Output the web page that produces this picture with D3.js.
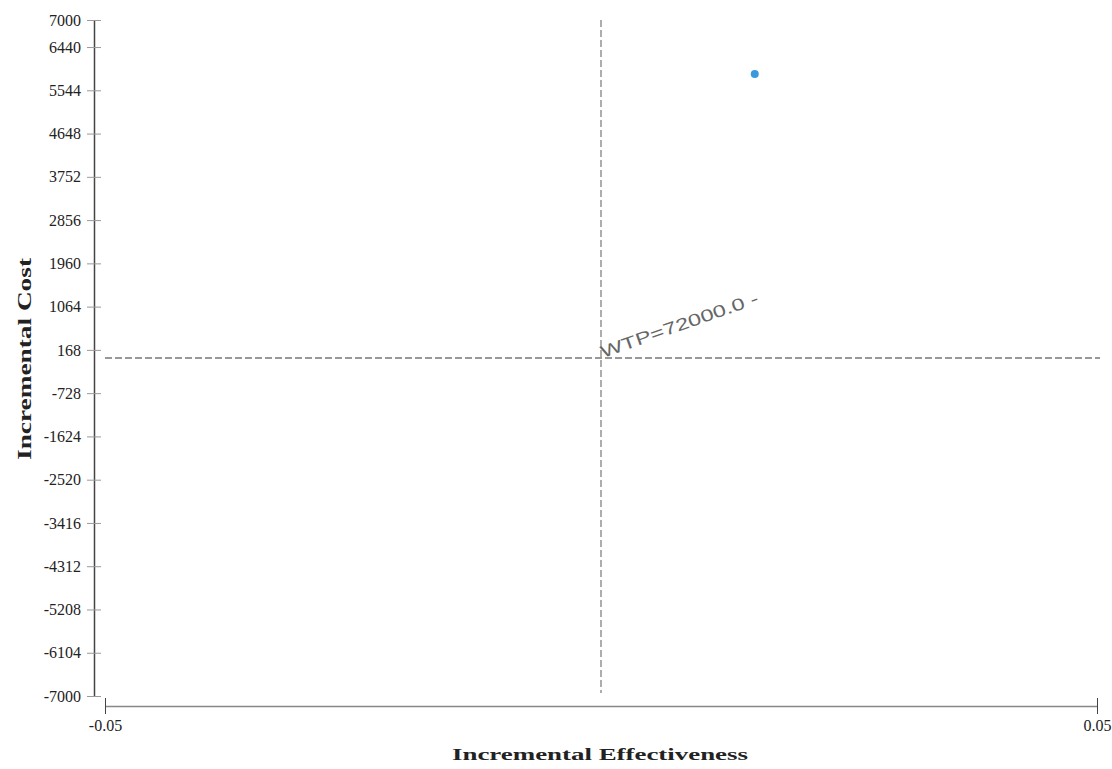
<!DOCTYPE html>
<html>
<head>
<meta charset="utf-8">
<script src="https://d3js.org/d3.v7.min.js"></script>
<style>
  body { margin: 0; background: #fff; }
  .axis path, .axis line { fill: none; }
  .axis text { font-family: "Liberation Serif", serif; font-size: 16px; fill: #222; }
</style>
</head>
<body>
<div id="chart"></div>
<script>

      // data
      var effectValues = [0.0155];
      var costValues = [5880];

      var xTickValues = [-0.05, 0.05];
      var yTickValues = [7000, 6440, 5544, 4648, 3752, 2856, 1960, 1064, 168,
                         -728, -1624, -2520, -3416, -4312, -5208, -6104, -7000];

      var wtp = 72000;
      var wtpLabel = "WTP=72000.0 -";

      var xDomain = [-0.05, 0.05];
      var yDomain = [-7000, 7000];

      // plain hyphen for negative numbers
      var locale = d3.formatLocale({decimal: ".", thousands: "", grouping: [3], currency: ["", ""], minus: "-"});

      var svg = d3.select("#chart").append("svg")
          .attr("width", 1112)
          .attr("height", 769);

      ////// Define Scales /////////////////
      var xScale = d3.scaleLinear()
          .domain(xDomain)
          .range([105, 1097]);
      var yScale = d3.scaleLinear()
          .domain(yDomain)
          .range([696, 20]);

      var yAxisX = 94,
          xAxisY = 706;

      /////// Axes //////////////////////////////
      var yAxis = d3.axisLeft()
          .scale(yScale)
          .tickValues(yTickValues)
          .tickSizeOuter(0)
          .tickFormat(locale.format("d"));

      var gy = svg.append("g")
          .attr("class", "y axis")
          .attr("transform", "translate(" + yAxisX + ",0)")
          .call(yAxis);
      gy.select(".domain").attr("stroke", "#444").attr("stroke-width", 1.5);
      gy.selectAll(".tick line")
          .attr("x1", -7).attr("x2", 7)
          .attr("stroke", "#999");
      gy.selectAll(".tick text").attr("x", -13);

      var xAxis = d3.axisBottom()
          .scale(xScale)
          .tickValues(xTickValues)
          .tickSizeOuter(0)
          .tickFormat(locale.format(".2f"));

      var gx = svg.append("g")
          .attr("class", "x axis")
          .attr("transform", "translate(0," + xAxisY + ")")
          .call(xAxis);
      gx.select(".domain").attr("stroke", "#888").attr("stroke-width", 1.5);
      gx.selectAll(".tick line")
          .attr("y1", -8).attr("y2", 8)
          .attr("stroke", "#444");
      gx.selectAll(".tick text").attr("y", 14);

      // axis titles
      svg.append("text")
          .attr("x", 600)
          .attr("y", 760)
          .attr("text-anchor", "middle")
          .attr("textLength", 296)
          .attr("lengthAdjust", "spacingAndGlyphs")
          .style("font-family", "Liberation Serif, serif")
          .style("font-weight", "bold")
          .style("font-size", "16px")
          .style("fill", "#222")
          .text("Incremental Effectiveness");

      svg.append("text")
          .attr("transform", "translate(31,359) rotate(-90)")
          .attr("text-anchor", "middle")
          .attr("textLength", 202)
          .attr("lengthAdjust", "spacingAndGlyphs")
          .style("font-family", "Liberation Serif, serif")
          .style("font-weight", "bold")
          .style("font-size", "19px")
          .style("fill", "#222")
          .text("Incremental Cost");

      ////// quadrant lines through the origin //////
      svg.append("line")
          .attr("x1", xScale(xDomain[0])).attr("x2", xScale(xDomain[1]) + 3)
          .attr("y1", yScale(0)).attr("y2", yScale(0))
          .attr("stroke", "#777")
          .attr("stroke-width", 1.6)
          .attr("stroke-dasharray", "7,3");

      svg.append("line")
          .attr("x1", xScale(0)).attr("x2", xScale(0))
          .attr("y1", yScale(yDomain[1])).attr("y2", yScale(yDomain[0]) - 3)
          .attr("stroke", "#999")
          .attr("stroke-width", 1.6)
          .attr("stroke-dasharray", "7,3");

      // WTP label along the threshold slope
      var wtpX = 0.02;
      var angle = Math.atan2(yScale(wtp * wtpX) - yScale(0), xScale(wtpX) - xScale(0)) * 180 / Math.PI;
      svg.append("text")
          .attr("transform", "translate(" + (xScale(0) + 2) + "," + yScale(0) + ") rotate(" + angle + ")")
          .attr("textLength", 166)
          .attr("lengthAdjust", "spacingAndGlyphs")
          .style("font-family", "Liberation Sans, sans-serif")
          .style("font-size", "17px")
          .style("fill", "#666")
          .text(wtpLabel);

      // append data points
      svg.append("g")
          .selectAll(".pt")
          .data(effectValues)
          .enter()
          .append("circle")
          .attr("class", "pt")
          .attr("cx", function(d) { return xScale(d); })
          .attr("cy", function(d, i) { return yScale(costValues[i]); })
          .attr("r", 4)
          .attr("fill", "#3a99dc");

</script>
</body>
</html>
